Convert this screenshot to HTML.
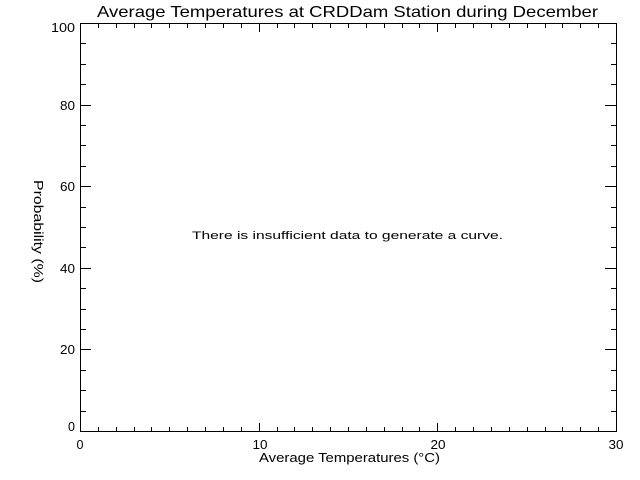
<!DOCTYPE html>
<html>
<head>
<meta charset="utf-8">
<style>
  html, body { margin: 0; padding: 0; background: #ffffff; }
  svg { display: block; }
  text { font-family: "Liberation Sans", "DejaVu Sans", sans-serif; fill: #000; }
</style>
</head>
<body>
<svg width="640" height="480" viewBox="0 0 640 480" xmlns="http://www.w3.org/2000/svg">
  <rect x="0" y="0" width="640" height="480" fill="#ffffff"/>

  <!-- Title -->
  <text x="97" y="17" font-size="16" textLength="501" lengthAdjust="spacingAndGlyphs">Average Temperatures at CRDDam Station during December</text>

  <!-- Plot frame -->
  <g shape-rendering="crispEdges" stroke="#000" stroke-width="1" fill="none">
    <rect x="80.5" y="23.5" width="536" height="408"/>
    <!-- bottom minor ticks -->
    <path d="M98.5 431V427M116.5 431V427M134.5 431V427M151.5 431V427M169.5 431V427M187.5 431V427M205.5 431V427M223.5 431V427M241.5 431V427
             M277.5 431V427M294.5 431V427M312.5 431V427M330.5 431V427M348.5 431V427M366.5 431V427M384.5 431V427M402.5 431V427M419.5 431V427
             M455.5 431V427M473.5 431V427M491.5 431V427M509.5 431V427M527.5 431V427M545.5 431V427M562.5 431V427M580.5 431V427M598.5 431V427"/>
    <!-- bottom major ticks -->
    <path d="M259.5 431V423M437.5 431V423"/>
    <!-- top minor ticks -->
    <path d="M98.5 24V28M116.5 24V28M134.5 24V28M151.5 24V28M169.5 24V28M187.5 24V28M205.5 24V28M223.5 24V28M241.5 24V28
             M277.5 24V28M294.5 24V28M312.5 24V28M330.5 24V28M348.5 24V28M366.5 24V28M384.5 24V28M402.5 24V28M419.5 24V28
             M455.5 24V28M473.5 24V28M491.5 24V28M509.5 24V28M527.5 24V28M545.5 24V28M562.5 24V28M580.5 24V28M598.5 24V28"/>
    <!-- top major ticks -->
    <path d="M259.5 24V32M437.5 24V32"/>
    <!-- left minor ticks -->
    <path d="M81 411.5H86M81 390.5H86M81 370.5H86M81 329.5H86M81 309.5H86M81 288.5H86M81 247.5H86M81 227.5H86M81 207.5H86
             M81 166.5H86M81 145.5H86M81 125.5H86M81 84.5H86M81 64.5H86M81 43.5H86"/>
    <!-- left major ticks -->
    <path d="M81 349.5H91M81 268.5H91M81 186.5H91M81 105.5H91"/>
    <!-- right minor ticks -->
    <path d="M616 411.5H611M616 390.5H611M616 370.5H611M616 329.5H611M616 309.5H611M616 288.5H611M616 247.5H611M616 227.5H611M616 207.5H611
             M616 166.5H611M616 145.5H611M616 125.5H611M616 84.5H611M616 64.5H611M616 43.5H611"/>
    <!-- right major ticks -->
    <path d="M616 349.5H605M616 268.5H605M616 186.5H605M616 105.5H605"/>
  </g>

  <!-- Y tick labels -->
  <g font-size="12.5" text-anchor="end">
    <text x="75" y="32" textLength="24" lengthAdjust="spacingAndGlyphs">100</text>
    <text x="75" y="110" textLength="15" lengthAdjust="spacingAndGlyphs">80</text>
    <text x="75" y="191" textLength="15" lengthAdjust="spacingAndGlyphs">60</text>
    <text x="75" y="273" textLength="15" lengthAdjust="spacingAndGlyphs">40</text>
    <text x="75" y="354" textLength="15" lengthAdjust="spacingAndGlyphs">20</text>
    <text x="75" y="431">0</text>
  </g>

  <!-- X tick labels -->
  <g font-size="12.5" text-anchor="middle">
    <text x="80" y="449">0</text>
    <text x="260" y="449" textLength="15" lengthAdjust="spacingAndGlyphs">10</text>
    <text x="438" y="449" textLength="15" lengthAdjust="spacingAndGlyphs">20</text>
    <text x="616" y="449" textLength="15" lengthAdjust="spacingAndGlyphs">30</text>
  </g>

  <!-- Axis titles -->
  <text x="259" y="462" font-size="13" textLength="181" lengthAdjust="spacingAndGlyphs">Average Temperatures (°C)</text>
  <text transform="translate(34,180) rotate(90)" x="0" y="0" font-size="13" textLength="103" lengthAdjust="spacingAndGlyphs">Probability (%)</text>

  <!-- Message -->
  <text x="192" y="239" font-size="11" textLength="311" lengthAdjust="spacingAndGlyphs">There is insufficient data to generate a curve.</text>
</svg>
</body>
</html>
